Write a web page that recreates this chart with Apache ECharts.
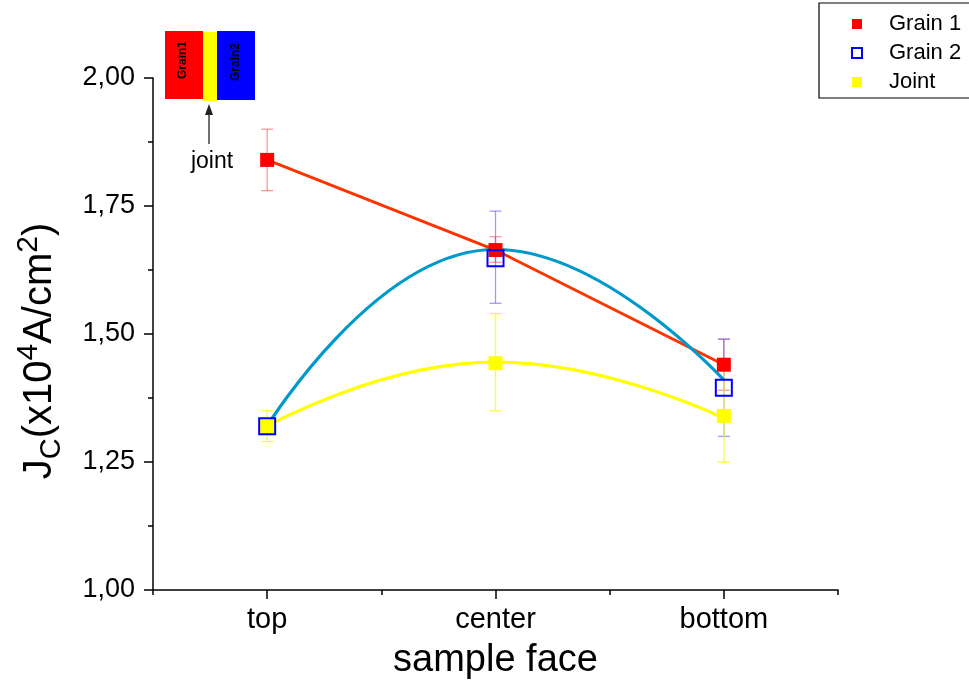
<!DOCTYPE html>
<html>
<head>
<meta charset="utf-8">
<script src="https://cdn.jsdelivr.net/npm/echarts@6/dist/echarts.min.js"></script>
<style>html,body{margin:0;padding:0;background:#fff}#c{width:969px;height:689px}</style>
</head>
<body>
<div id="c"></div>
<script>
// ---- data ----
const categories = ['top', 'center', 'bottom'];
const yTicks = [1.00, 1.25, 1.50, 1.75, 2.00];

const grain1 = [1.84, 1.664, 1.44];
const grain1Low = [1.78, 1.64, 1.39];
const grain1High = [1.90, 1.69, 1.49];

const grain2 = [1.32, 1.648, 1.395];
const grain2Low = [1.31, 1.56, 1.30];
const grain2High = [1.33, 1.74, 1.49];

const joint = [1.32, 1.443, 1.34];
const jointLow = [1.29, 1.35, 1.25];
const jointHigh = [1.35, 1.54, 1.43];

// smooth guide curves as drawn in the reference (values read at each category)
const grain2Curve = [1.32, 1.665, 1.41];
const jointCurve = [1.32, 1.445, 1.335];

// ---- chart ----
const FONT = 'Liberation Sans, Arial, sans-serif';
const chart = echarts.init(document.getElementById('c'), null, {renderer: 'canvas'});

function errorSeries(name, low, high, color) {
  return {
    type: 'custom',
    name: name,
    xAxisIndex: 0,
    z: 1,
    silent: true,
    data: low.map((l, i) => [i, l, high[i]]),
    renderItem: function (params, api) {
      const x = api.value(0);
      const p1 = api.coord([x, api.value(1)]);
      const p2 = api.coord([x, api.value(2)]);
      const w = 6;
      const st = {stroke: color, lineWidth: 1.3};
      return {
        type: 'group',
        children: [
          {type: 'line', shape: {x1: p1[0], y1: p1[1], x2: p2[0], y2: p2[1]}, style: st},
          {type: 'line', shape: {x1: p1[0] - w, y1: p1[1], x2: p1[0] + w, y2: p1[1]}, style: st},
          {type: 'line', shape: {x1: p2[0] - w, y1: p2[1], x2: p2[0] + w, y2: p2[1]}, style: st}
        ]
      };
    }
  };
}

const option = {
  backgroundColor: '#ffffff',
  animation: false,
  textStyle: {fontFamily: FONT},
  grid: {left: 153, right: 131, top: 78, bottom: 99, containLabel: false},
  legend: {
    data: ['Grain 1', 'Grain 2', 'Joint'],
    orient: 'vertical',
    left: 819,
    top: 3,
    icon: 'rect',
    itemWidth: 10,
    itemHeight: 10,
    itemGap: 5,
    padding: [9, 14, 4, 32],
    borderColor: '#000',
    borderWidth: 1.2,
    textStyle: {fontSize: 22, color: '#000', lineHeight: 24, padding: [0, 0, 0, 22], fontFamily: FONT}
  },
  xAxis: [
    {
      type: 'category',
      data: categories,
      boundaryGap: true,
      position: 'bottom',
      axisLine: {show: true, lineStyle: {color: '#000', width: 1.5}},
      axisTick: {show: true, alignWithLabel: false, length: 5, lineStyle: {color: '#000', width: 1.5}},
      axisLabel: {fontSize: 29, color: '#000', margin: 15, fontFamily: FONT},
      splitLine: {show: false},
      name: 'sample face',
      nameLocation: 'middle',
      nameGap: 52,
      nameTextStyle: {fontSize: 38, color: '#000', fontFamily: FONT}
    },
    {
      type: 'category',
      data: categories,
      boundaryGap: true,
      position: 'bottom',
      axisLine: {show: false},
      axisTick: {show: true, alignWithLabel: true, length: 9, lineStyle: {color: '#000', width: 1.5}},
      axisLabel: {show: false},
      splitLine: {show: false}
    }
  ],
  yAxis: {
    type: 'value',
    min: yTicks[0],
    max: yTicks[yTicks.length - 1],
    interval: 0.25,
    axisLine: {show: true, lineStyle: {color: '#000', width: 1.5}},
    axisTick: {show: true, length: 9, lineStyle: {color: '#000', width: 1.5}},
    minorTick: {show: true, splitNumber: 2, length: 5, lineStyle: {color: '#000', width: 1.5}},
    axisLabel: {
      fontSize: 27, color: '#000', margin: 18, fontFamily: FONT,
      formatter: v => v.toFixed(2).replace('.', ',')
    },
    splitLine: {show: false}
  },
  graphic: [
    // y-axis title with sub/superscripts
    {
      type: 'text',
      x: 40, y: 351,
      rotation: Math.PI / 2,
      style: {
        text: '{n|J}{sub|C}{n|(x10}{sup|4}{n|A/cm}{sup|2}{n|)}',
        align: 'center',
        verticalAlign: 'middle',
        fill: '#000',
        font: '40px ' + FONT,
        rich: {
          n: {fontSize: 40, lineHeight: 52, fontFamily: FONT, fill: '#000', verticalAlign: 'middle'},
          sub: {fontSize: 29, lineHeight: 29, fontFamily: FONT, fill: '#000', verticalAlign: 'bottom'},
          sup: {fontSize: 30, lineHeight: 30, fontFamily: FONT, fill: '#000', verticalAlign: 'top'}
        }
      }
    },
    // inset sketch
    {type: 'rect', shape: {x: 165, y: 31, width: 38, height: 68}, style: {fill: '#ff0000'}},
    {type: 'rect', shape: {x: 203, y: 32, width: 14, height: 69}, style: {fill: '#ffff00'}},
    {type: 'rect', shape: {x: 217, y: 31, width: 38, height: 69}, style: {fill: '#0000ff'}},
    {type: 'text', x: 183, y: 60, rotation: Math.PI / 2,
     style: {text: 'Grain1', align: 'center', verticalAlign: 'middle', fill: '#000', font: 'bold 12px ' + FONT}},
    {type: 'text', x: 236, y: 62, rotation: Math.PI / 2,
     style: {text: 'Grain2', align: 'center', verticalAlign: 'middle', fill: '#000', font: 'bold 12px ' + FONT}},
    {type: 'line', shape: {x1: 209, y1: 144, x2: 209, y2: 110}, style: {stroke: '#222', lineWidth: 1.3}},
    {type: 'polygon', shape: {points: [[209, 104], [205, 115], [213, 115]]}, style: {fill: '#222'}},
    {type: 'text', x: 212, y: 162,
     style: {text: 'joint', align: 'center', verticalAlign: 'middle', fill: '#000', font: '23px ' + FONT}}
  ],
  series: [
    errorSeries('g1err', grain1Low, grain1High, 'rgba(255,80,80,0.6)'),
    errorSeries('g2err', grain2Low, grain2High, 'rgba(90,90,255,0.6)'),
    errorSeries('jerr', jointLow, jointHigh, 'rgba(255,255,0,0.85)'),
    {
      type: 'line', name: 'Grain 1 line', data: grain1, z: 2, silent: true,
      showSymbol: false, symbol: 'none',
      lineStyle: {color: '#ff3300', width: 3}
    },
    {
      type: 'line', name: 'Grain 2 curve', data: grain2Curve, z: 3, silent: true,
      showSymbol: false, symbol: 'none', smooth: 0.5,
      lineStyle: {color: '#0099cc', width: 3.2}
    },
    {
      type: 'line', name: 'Joint curve', data: jointCurve, z: 2, silent: true,
      showSymbol: false, symbol: 'none', smooth: 0.5,
      lineStyle: {color: '#ffff00', width: 3.2}
    },
    {
      type: 'scatter', name: 'Grain 1', data: grain1, z: 4,
      symbol: 'rect', symbolSize: 14,
      itemStyle: {color: '#ff0000', opacity: 1}
    },
    {
      type: 'scatter', name: 'Grain 2', data: grain2, z: 5,
      symbol: 'rect', symbolSize: 16,
      itemStyle: {color: 'rgba(255,255,255,0)', borderColor: '#0000ff', borderWidth: 2, opacity: 1}
    },
    {
      type: 'scatter', name: 'Joint', data: joint, z: 4,
      symbol: 'rect', symbolSize: 14,
      itemStyle: {color: '#ffff00', opacity: 1}
    }
  ]
};
chart.setOption(option);
</script>
</body>
</html>
